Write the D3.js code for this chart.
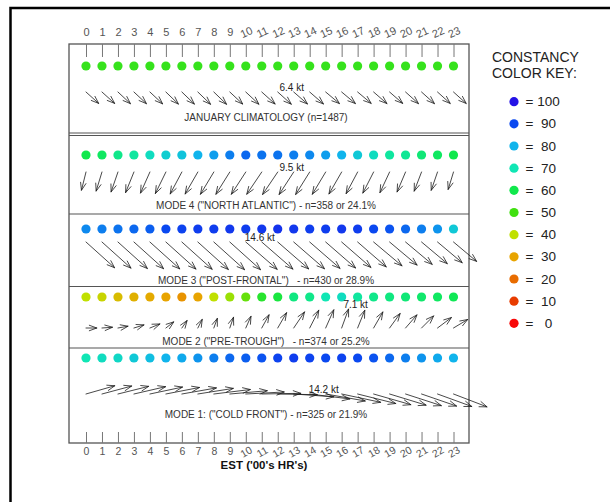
<!DOCTYPE html>
<html>
<head>
<meta charset="utf-8">
<script src="https://cdn.jsdelivr.net/npm/d3@7"></script>
<style>
  html, body { margin: 0; padding: 0; background: #fff; }
  svg { display: block; font-family: "Liberation Sans", Arial, sans-serif; }
</style>
</head>
<body>
<svg id="chart" width="610" height="502"></svg>
<script>
// ---- data -------------------------------------------------------------
const hourLabels = ["0","1","2","3","4","5","6","7","8","9","10","11",
                    "12","13","14","15","16","17","18","19","20","21","22","23"];

const panelTitles = [
  "JANUARY CLIMATOLOGY (n=1487)",
  "MODE 4 (\"NORTH ATLANTIC\") - n=358 or 24.1%",
  "MODE 3 (\"POST-FRONTAL\")   - n=430 or 28.9%",
  "MODE 2 (\"PRE-TROUGH\")   - n=374 or 25.2%",
  "MODE 1: (\"COLD FRONT\") - n=325 or 21.9%"
];

// hour whose vector carries the speed label in each panel
const labelHours = [12, 12, 10, 16, 14];

// wind direction (degrees, blowing from), speed (kt) and constancy (%) by hour
const janDir   = [312,312,313,313,313,314,314,314,314,313,313,312,312,311,311,310,310,310,311,311,312,312,312,312];
const janSpeed = [6.0,6.0,6.0,6.0,6.1,6.1,6.1,6.2,6.2,6.2,6.3,6.3,6.4,6.4,6.4,6.3,6.3,6.2,6.2,6.1,6.1,6.1,6.0,6.0];
const janConst = [52,52,52,52,52,52,52,52,52,52,52,52,52,52,52,52,52,52,52,52,52,52,52,52];

const mode4Dir   = [14,17,19,22,24,26,28,30,31,32,33,34,34,33,32,31,30,28,27,25,23,21,19,17];
const mode4Speed = [6.6,7.0,7.4,7.8,8.1,8.4,8.7,8.9,9.1,9.2,9.3,9.4,9.5,9.4,9.3,9.1,8.9,8.6,8.3,8.0,7.6,7.2,6.8,6.4];
const mode4Const = [60,62,66,68,72,75,77,80,82,85,87,86,86,85,84,82,80,76,72,68,67,64,62,60];

const mode3Dir   = [312,312,312,312,312,312,312,312,312,312,311,311,311,311,311,311,311,311,310,310,310,310,310,310];
const mode3Speed = [13.5,13.7,13.9,14.0,14.1,14.2,14.3,14.4,14.5,14.5,14.6,14.5,14.4,14.3,14.1,13.9,13.6,13.3,13.0,12.6,12.2,11.8,11.3,10.6];
const mode3Const = [84,85,86,87,88,90,91,92,92,93,92,93,94,93,92,92,93,92,90,89,87,85,83,76];

const mode2Dir   = [270,266,260,253,248,232,215,207,200,199,204,209,210,214,207,204,200,202,210,216,221,225,233,239];
const mode2Speed = [3.8,3.7,3.6,3.7,3.8,3.5,3.2,3.4,3.6,4.0,4.5,5.3,6.2,6.8,7.0,7.0,7.1,6.7,6.5,6.3,6.1,6.0,6.1,5.8];
const mode2Const = [40,38,34,32,31,30,27,30,40,43,47,55,58,65,66,70,72,68,66,65,64,63,62,61];

const mode1Dir   = [254,255,256,257,258,259,260,261,263,265,267,269,271,274,277,280,282,284,286,287,288,289,290,291];
const mode1Speed = [10.5,10.8,11.1,11.4,11.7,12.0,12.3,12.6,12.9,13.2,13.5,13.7,13.9,14.1,14.2,14.1,14.0,13.8,13.6,13.4,13.2,13.0,12.8,12.6];
const mode1Const = [70,72,73,76,78,80,81,83,85,87,88,89,91,92,91,90,91,90,89,87,85,83,81,80];

// constancy colour key
const keyValues  = [100, 90, 80, 70, 60, 50, 40, 30, 20, 10, 0];
const keyColours = ["#2412e6","#0a48f0","#10b4ec","#10e6b4","#10e84c","#40e010",
                    "#c0e000","#e8a400","#e86c00","#e83c00","#f80808"];

// ---- layout -----------------------------------------------------------
const panels = [
  { title: panelTitles[0], dir: janDir,   speed: janSpeed,   cons: janConst,   peak: labelHours[0] },
  { title: panelTitles[1], dir: mode4Dir, speed: mode4Speed, cons: mode4Const, peak: labelHours[1] },
  { title: panelTitles[2], dir: mode3Dir, speed: mode3Speed, cons: mode3Const, peak: labelHours[2] },
  { title: panelTitles[3], dir: mode2Dir, speed: mode2Speed, cons: mode2Const, peak: labelHours[3] },
  { title: panelTitles[4], dir: mode1Dir, speed: mode1Speed, cons: mode1Const, peak: labelHours[4] }
];
// vertical placement of each band: dot row, vector origin row, caption row
const bands = [
  { dotY: 66,  tailY: 92,  titleY: 121 },
  { dotY: 155, tailY: 172, titleY: 209 },
  { dotY: 229, tailY: 242, titleY: 284 },
  { dotY: 297, tailY: 328, titleY: 345 },
  { dotY: 358, tailY: 394, titleY: 418 }
];
const box = { left: 69, right: 469, top: 44, bottom: 443 };
const dividers = [133, 135.5, 214, 286.5, 348];

const svg = d3.select("#chart");

const x = d3.scaleLinear().domain([0, 23]).range([86, 453.5]);
const len = d3.scaleLinear().domain([0, 10]).range([0, 28.5]);   // kt -> px
const colour = d3.scaleLinear().domain(keyValues).range(keyColours)
  .interpolate(d3.interpolateRgb);

// outer frame (top and left edges)
svg.append("path")
  .attr("d", "M10.5,502 V8 H610")
  .attr("fill", "none").attr("stroke", "#000").attr("stroke-width", 2.5);

// main box and band dividers
svg.append("rect")
  .attr("x", box.left).attr("y", box.top)
  .attr("width", box.right - box.left).attr("height", box.bottom - box.top)
  .attr("fill", "none").attr("stroke", "#555").attr("stroke-width", 1.3);

svg.selectAll("line.divider").data(dividers).join("line")
  .attr("class", "divider")
  .attr("x1", box.left).attr("x2", box.right)
  .attr("y1", d => d).attr("y2", d => d)
  .attr("stroke", "#555").attr("stroke-width", 1.2);

// hour axes, ticks pointing into the box; two-digit hours drawn slanted
function styleAxis(g, angle, cy, size) {
  g.select(".domain").remove();
  g.attr("font-family", null).attr("font-size", null);
  g.selectAll(".tick line").attr("stroke", "#777").attr("stroke-width", 1);
  g.selectAll(".tick text")
    .attr("fill", "#555")
    .style("font-size", size + "px")
    .attr("transform", d => d >= 10 ? `rotate(${angle},0,${cy})` : null);
}

const topAxis = svg.append("g")
  .attr("transform", `translate(0,${box.top})`)
  .call(d3.axisTop(x).tickValues(d3.range(24)).tickFormat(i => hourLabels[i])
        .tickSize(-13).tickPadding(8));
styleAxis(topAxis, -25, -12, 11);

const bottomAxis = svg.append("g")
  .attr("transform", `translate(0,${box.bottom})`)
  .call(d3.axisBottom(x).tickValues(d3.range(24)).tickFormat(i => hourLabels[i])
        .tickSize(-11).tickPadding(5));
styleAxis(bottomAxis, -30, 9, 10.5);

svg.append("text")
  .attr("x", 264).attr("y", 469)
  .attr("text-anchor", "middle")
  .attr("font-weight", "bold").attr("font-size", 11.5).attr("fill", "#111")
  .text("EST ('00's HR's)");

// wind vectors: shaft from the hour position plus an open arrowhead
function arrowPath(x0, y0, dirDeg, kt) {
  const a = dirDeg * Math.PI / 180;
  const L = len(kt);
  const dx = -Math.sin(a) * L, dy = Math.cos(a) * L;
  const x1 = x0 + dx, y1 = y0 + dy;
  const ang = Math.atan2(dy, dx);
  const h = 8, spread = 20 * Math.PI / 180;
  const bx1 = x1 - h * Math.cos(ang - spread), by1 = y1 - h * Math.sin(ang - spread);
  const bx2 = x1 - h * Math.cos(ang + spread), by2 = y1 - h * Math.sin(ang + spread);
  return { d: `M${x0},${y0}L${x1},${y1}M${bx1},${by1}L${x1},${y1}L${bx2},${by2}`, x1, y1 };
}

panels.forEach((p, i) => {
  const b = bands[i];
  const g = svg.append("g");

  // constancy dots
  g.selectAll("circle").data(p.cons).join("circle")
    .attr("cx", (d, h) => x(h)).attr("cy", b.dotY).attr("r", 4.6)
    .attr("fill", d => colour(d));

  // vectors
  g.selectAll("path.vec").data(p.speed).join("path")
    .attr("class", "vec")
    .attr("d", (s, h) => arrowPath(x(h), b.tailY, p.dir[h], s).d)
    .attr("fill", "none").attr("stroke", "#1a1a1a").attr("stroke-width", 0.8)
    .attr("stroke-linecap", "round").attr("stroke-linejoin", "round");

  // speed label on the labelled hour
  const pk = arrowPath(x(p.peak), b.tailY, p.dir[p.peak], p.speed[p.peak]);
  g.append("text")
    .attr("x", x(p.peak) + 14)
    .attr("y", Math.min(b.tailY, pk.y1) - 1)
    .attr("text-anchor", "middle").attr("font-size", 10).attr("fill", "#222")
    .text(d3.format(".1f")(p.speed[p.peak]) + " kt");

  // caption
  g.append("text")
    .attr("x", 266).attr("y", b.titleY)
    .attr("text-anchor", "middle").attr("font-size", 10).attr("fill", "#333")
    .style("white-space", "pre")
    .text(p.title);
});

// colour key
const key = svg.append("g");
key.append("text").attr("x", 492).attr("y", 62)
  .attr("font-size", 14).attr("fill", "#222").text("CONSTANCY");
key.append("text").attr("x", 492).attr("y", 78)
  .attr("font-size", 14).attr("fill", "#222").text("COLOR KEY:");

const keyY = d3.scaleLinear().domain([100, 0]).range([101.7, 323.3]);
const item = key.selectAll("g.item").data(keyValues).join("g")
  .attr("class", "item")
  .attr("transform", d => `translate(0,${keyY(d)})`);
item.append("circle").attr("cx", 514).attr("cy", 0).attr("r", 4.6)
  .attr("fill", d => colour(d));
item.append("text").attr("x", 525.5).attr("y", 4.6)
  .attr("font-size", 13.5).attr("fill", "#222")
  .style("white-space", "pre")
  .text(d => "= " + String(d).padStart(3, " "));
</script>
</body>
</html>
